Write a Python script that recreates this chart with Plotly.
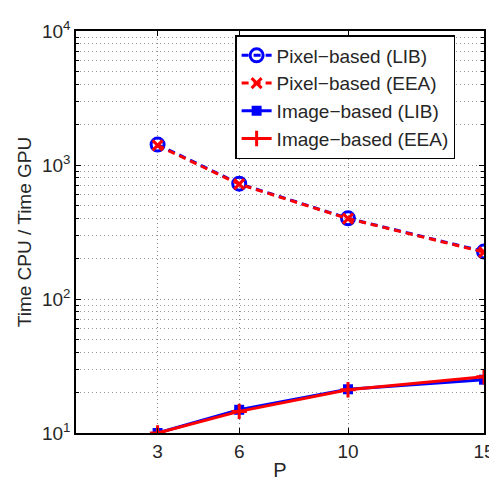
import plotly.graph_objects as go

# number of partitions P
p_values = [3, 6, 10, 15]

# speedup CPU / GPU
pixel_lib = [1420, 725, 400, 226]
pixel_eea = [1400, 720, 398, 224]
image_lib = [10.0, 14.9, 21.2, 25.0]
image_eea = [10.0, 14.5, 21.0, 26.3]

y_ticks = [10, 100, 1000, 10000]
y_labels = ["10<sup>1</sup>", "10<sup>2</sup>", "10<sup>3</sup>", "10<sup>4</sup>"]

minor_vals = [m * 10 ** e for e in range(1, 4) for m in range(2, 10)]

fig = go.Figure()

fig.add_trace(go.Scatter(
    x=p_values, y=pixel_lib, mode="lines+markers", name="Pixel\u2212based (LIB)",
    line=dict(color="#0000ff", width=3, dash="7px,5px"),
    marker=dict(symbol="circle-open", size=13, color="#0000ff", line=dict(width=3, color="#0000ff"))))
fig.add_trace(go.Scatter(
    x=p_values, y=pixel_eea, mode="lines+markers", name="Pixel\u2212based (EEA)",
    line=dict(color="#ff0000", width=3, dash="7px,5px"),
    marker=dict(symbol="x-thin-open", size=10, color="#ff0000", line=dict(width=3, color="#ff0000"))))
fig.add_trace(go.Scatter(
    x=p_values, y=image_lib, mode="lines+markers", name="Image\u2212based (LIB)",
    line=dict(color="#0000ff", width=3),
    marker=dict(symbol="square", size=10, color="#0000ff")))
fig.add_trace(go.Scatter(
    x=p_values, y=image_eea, mode="lines+markers", name="Image\u2212based (EEA)",
    line=dict(color="#ff0000", width=3),
    marker=dict(symbol="cross-thin-open", size=11, color="#ff0000", line=dict(width=3, color="#ff0000"))))

fig.update_layout(
    width=497, height=480,
    margin=dict(l=68, r=10, t=18, b=48),
    paper_bgcolor="white", plot_bgcolor="white",
    font=dict(family="Liberation Sans, Arial, sans-serif", size=19, color="#262626"),
    showlegend=True,
    legend=dict(x=0.39, y=0.99, xanchor="left", yanchor="top",
                bgcolor="white", bordercolor="black", borderwidth=1.5,
                font=dict(size=19, color="#262626"), tracegroupgap=0),
)

fig.update_xaxes(
    range=[0, 15], tickvals=p_values, ticktext=[str(v) for v in p_values],
    showline=True, linecolor="black", linewidth=1.5, mirror="ticks",
    ticks="inside", ticklen=5, tickcolor="black",
    showgrid=True, gridcolor="#8c8c8c", griddash="1px,3px", gridwidth=1,
    zeroline=False,
    title=dict(text="P", font=dict(size=20), standoff=2),
)
fig.update_yaxes(
    type="log", range=[1, 4], tickvals=y_ticks, ticktext=y_labels,
    showline=True, linecolor="black", linewidth=1.5, mirror="ticks",
    ticks="inside", ticklen=5, tickcolor="black",
    showgrid=True, gridcolor="#8c8c8c", griddash="1px,3px", gridwidth=1,
    minor=dict(tickvals=minor_vals, ticks="inside", ticklen=3, tickcolor="black",
               showgrid=True, gridcolor="#9a9a9a", griddash="1px,3px", gridwidth=1),
    zeroline=False,
    title=dict(text="Time CPU / Time GPU", font=dict(size=19), standoff=5),
)

fig.write_html("out.html")
